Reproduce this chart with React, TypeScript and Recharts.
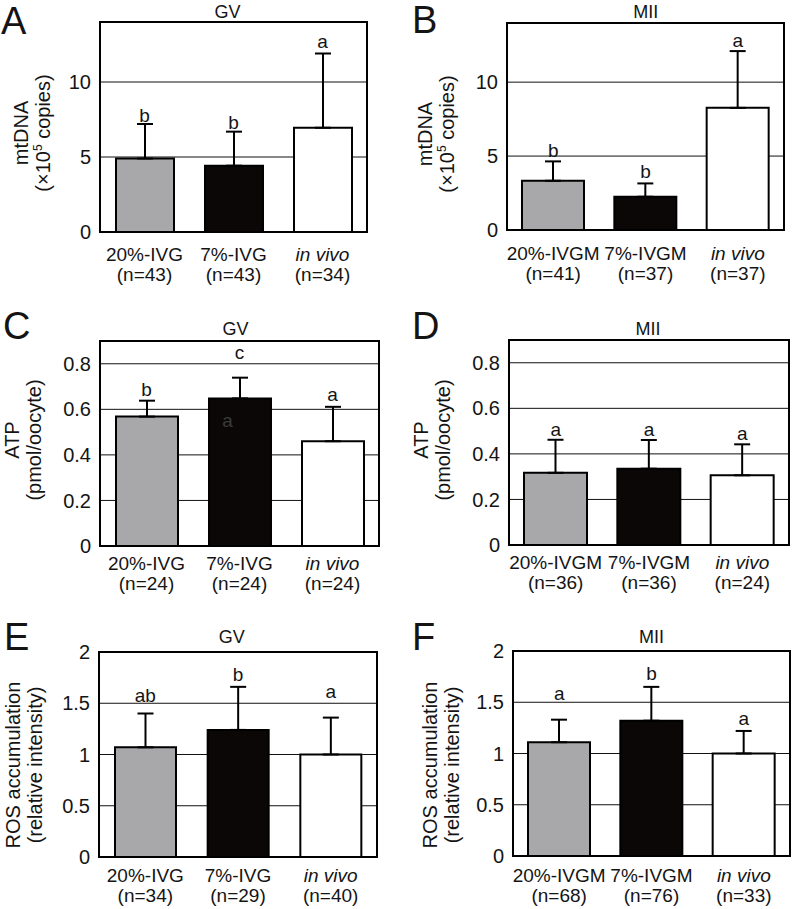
import React from 'react';
import {
  ComposedChart,
  Bar,
  Cell,
  ErrorBar,
  XAxis,
  YAxis,
  CartesianGrid,
  ReferenceArea,
  Line,
  LabelList,
} from 'recharts';

// ---------------- DATA ----------------
const gvGroups = ['20%-IVG', '7%-IVG', 'in vivo'];
const miiGroups = ['20%-IVGM', '7%-IVGM', 'in vivo'];

// A: mtDNA, GV (x10^5 copies)
const mtdnaGvMean = [4.9, 4.42, 6.95];
const mtdnaGvSd = [2.3, 2.27, 4.95];
const mtdnaGvN = [43, 43, 34];
const mtdnaGvLetters = ['b', 'b', 'a'];
const mtdnaGvLetterAt = [7.35, 6.85, 12.3];

// B: mtDNA, MII
const mtdnaMiiMean = [3.33, 2.25, 8.26];
const mtdnaMiiSd = [1.31, 0.9, 3.84];
const mtdnaMiiN = [41, 37, 37];
const mtdnaMiiLetters = ['b', 'b', 'a'];
const mtdnaMiiLetterAt = [4.95, 3.5, 12.4];

// C: ATP, GV (pmol/oocyte)
const atpGvMean = [0.568, 0.648, 0.46];
const atpGvSd = [0.07, 0.091, 0.151];
const atpGvN = [24, 24, 24];
const atpGvLetters = ['b', 'c', 'a'];
const atpGvLetterAt = [0.659, 0.821, 0.638];
const atpGvInnerLetters = ['', 'a', ''];
const atpGvInnerAt = [null, 0.524, null];

// D: ATP, MII
const atpMiiMean = [0.317, 0.335, 0.306];
const atpMiiSd = [0.145, 0.126, 0.136];
const atpMiiN = [36, 36, 24];
const atpMiiLetters = ['a', 'a', 'a'];
const atpMiiLetterAt = [0.48, 0.48, 0.46];

// E: ROS, GV (relative intensity)
const rosGvMean = [1.07, 1.24, 1.0];
const rosGvSd = [0.33, 0.42, 0.36];
const rosGvN = [34, 29, 40];
const rosGvLetters = ['ab', 'b', 'a'];
const rosGvLetterAt = [1.508, 1.72, 1.547];

// F: ROS, MII
const rosMiiMean = [1.11, 1.32, 1.0];
const rosMiiSd = [0.22, 0.33, 0.22];
const rosMiiN = [68, 76, 33];
const rosMiiLetters = ['a', 'b', 'a'];
const rosMiiLetterAt = [1.52, 1.717, 1.278];

const mtdnaTicks = [0, 5, 10];
const atpTicks = [0, 0.2, 0.4, 0.6, 0.8];
const rosTicks = [0, 0.5, 1, 1.5, 2];

// ---------------- STYLE ----------------
const FONT = '"Liberation Sans", Arial, Helvetica, sans-serif';
const TXT = '#141414';
const FS = 20;
const XFS = 19;
const barFills = ['#a8a7aa', '#0b0707', '#ffffff'];

function buildRows(
  groups: string[],
  mean: number[],
  sd: number[],
  n: number[],
  letters: string[],
  letterAt: number[],
  inner?: string[],
  innerAt?: (number | null)[]
) {
  return groups.map((name, i) => ({
    name,
    mean: mean[i],
    err: [0, sd[i]],
    n: n[i],
    letter: letters[i],
    letterAt: letterAt[i],
    inner: inner ? inner[i] : '',
    innerAt: innerAt ? innerAt[i] : null,
  }));
}

const panels = [
  {
    key: 'A',
    rows: buildRows(gvGroups, mtdnaGvMean, mtdnaGvSd, mtdnaGvN, mtdnaGvLetters, mtdnaGvLetterAt),
    max: 14,
    ticks: mtdnaTicks,
    col: 0,
    frame: { l: 100, t: 22, r: 367, b: 232 },
    barSize: 58,
    title: 'GV',
    titlePos: [227.5, 18],
    letterPos: [1, 34],
    yLabel: ['mtDNA', 'copies'],
    yLabelX: [28, 50],
    yLabelY: 133,
    xOff: 29,
  },
  {
    key: 'B',
    rows: buildRows(miiGroups, mtdnaMiiMean, mtdnaMiiSd, mtdnaMiiN, mtdnaMiiLetters, mtdnaMiiLetterAt),
    max: 14,
    ticks: mtdnaTicks,
    col: 1,
    frame: { l: 507, t: 23, r: 784, b: 230 },
    barSize: 62,
    title: 'MII',
    titlePos: [645.8, 18],
    letterPos: [412, 33],
    yLabel: ['mtDNA', 'copies'],
    yLabelX: [432, 454],
    yLabelY: 134,
    xOff: 30,
  },
  {
    key: 'C',
    rows: buildRows(gvGroups, atpGvMean, atpGvSd, atpGvN, atpGvLetters, atpGvLetterAt, atpGvInnerLetters, atpGvInnerAt),
    max: 0.9,
    ticks: atpTicks,
    col: 0,
    frame: { l: 100, t: 341, r: 379, b: 546 },
    barSize: 62,
    title: 'GV',
    titlePos: [235.5, 335],
    letterPos: [3, 339],
    yLabel: ['ATP', '(pmol/oocyte)'],
    yLabelX: [19, 41],
    yLabelY: 440,
    xOff: 24,
  },
  {
    key: 'D',
    rows: buildRows(miiGroups, atpMiiMean, atpMiiSd, atpMiiN, atpMiiLetters, atpMiiLetterAt),
    max: 0.9,
    ticks: atpTicks,
    col: 1,
    frame: { l: 509, t: 340, r: 789, b: 545 },
    barSize: 63,
    title: 'MII',
    titlePos: [648, 335],
    letterPos: [412, 339],
    yLabel: ['ATP', '(pmol/oocyte)'],
    yLabelX: [428, 450],
    yLabelY: 440,
    xOff: 24,
  },
  {
    key: 'E',
    rows: buildRows(gvGroups, rosGvMean, rosGvSd, rosGvN, rosGvLetters, rosGvLetterAt),
    max: 2,
    ticks: rosTicks,
    col: 0,
    frame: { l: 99, t: 652, r: 377, b: 857 },
    barSize: 61,
    title: 'GV',
    titlePos: [231.7, 643],
    letterPos: [4, 650],
    yLabel: ['ROS accumulation', '(relative intensity)'],
    yLabelX: [20, 42],
    yLabelY: 765,
    xOff: 25,
  },
  {
    key: 'F',
    rows: buildRows(miiGroups, rosMiiMean, rosMiiSd, rosMiiN, rosMiiLetters, rosMiiLetterAt),
    max: 2,
    ticks: rosTicks,
    col: 1,
    frame: { l: 513, t: 651, r: 790, b: 856 },
    barSize: 62,
    title: 'MII',
    titlePos: [651.5, 643],
    letterPos: [412, 650],
    yLabel: ['ROS accumulation', '(relative intensity)'],
    yLabelX: [437, 459],
    yLabelY: 765,
    xOff: 26,
  },
];

function XTick(props: any) {
  const { x, y, payload, rows, off } = props;
  const row = rows.find((r: any) => r.name === payload.value);
  const italic = payload.value === 'in vivo';
  return (
    <g>
      <text
        x={x}
        y={y + off}
        textAnchor="middle"
        fontSize={XFS}
        fontFamily={FONT}
        fill={TXT}
        fontStyle={italic ? 'italic' : 'normal'}
      >
        {payload.value}
      </text>
      <text x={x} y={y + off + 20} textAnchor="middle" fontSize={XFS} fontFamily={FONT} fill={TXT}>
        {`(n=${row ? row.n : ''})`}
      </text>
    </g>
  );
}

function makeLetter(color: string, dx: number) {
  return (props: any) => {
    const { x, y, value } = props;
    if (!value || y == null || isNaN(y)) return null;
    return (
      <text x={x + dx} y={y} textAnchor="middle" fontSize={19} fontFamily={FONT} fill={color}>
        {value}
      </text>
    );
  };
}

function Panel({ p }: { p: any }) {
  const cx = p.col === 0 ? 0 : 395;
  const cw = p.col === 0 ? 395 : 398;
  const cy = p.frame.t - 40;
  const ch = p.frame.b + 64 - cy;
  const margin = { top: 40, right: cx + cw - p.frame.r, bottom: 0, left: 0 };
  const hasInner = p.rows.some((r: any) => r.inner);
  return (
    <div style={{ position: 'absolute', left: cx, top: cy }}>
      <ComposedChart width={cw} height={ch} data={p.rows} margin={margin}>
        <CartesianGrid vertical={false} stroke="#111" strokeWidth={1} />
        <XAxis
          dataKey="name"
          axisLine={false}
          tickLine={false}
          tickSize={0}
          tickMargin={0}
          interval={0}
          height={64}
          tick={(tp: any) => <XTick {...tp} rows={p.rows} off={p.xOff} />}
        />
        <YAxis
          width={p.frame.l - cx}
          domain={[0, p.max]}
          ticks={p.ticks}
          interval={0}
          allowDataOverflow
          axisLine={false}
          tickLine={false}
          tickSize={0}
          tickMargin={9}
          tick={{ fontSize: FS, fill: TXT, fontFamily: FONT }}
        />
        <Bar dataKey="mean" barSize={p.barSize} stroke="#000" strokeWidth={2} isAnimationActive={false}>
          {p.rows.map((_r: any, i: number) => (
            <Cell key={i} fill={barFills[i]} />
          ))}
          <ErrorBar dataKey="err" width={8} strokeWidth={2} stroke="#000" direction="y" />
        </Bar>
        <Line
          dataKey="letterAt"
          stroke="none"
          dot={false}
          activeDot={false}
          isAnimationActive={false}
          legendType="none"
        >
          <LabelList dataKey="letter" content={makeLetter(TXT, 0)} />
        </Line>
        {hasInner && (
          <Line
            dataKey="innerAt"
            stroke="none"
            dot={false}
            activeDot={false}
            isAnimationActive={false}
            legendType="none"
          >
            <LabelList dataKey="inner" content={makeLetter('#3a3a3a', -12)} />
          </Line>
        )}
        <ReferenceArea y1={0} y2={p.max} fill="none" fillOpacity={0} stroke="#000" strokeWidth={2} ifOverflow="visible" />
      </ComposedChart>
    </div>
  );
}

function Overlay() {
  return (
    <svg
      width={793}
      height={909}
      style={{ position: 'absolute', left: 0, top: 0, pointerEvents: 'none' }}
    >
      {panels.map((p) => (
        <g key={p.key} fontFamily={FONT} fill={TXT}>
          <text x={p.letterPos[0]} y={p.letterPos[1]} fontSize={38}>
            {p.key}
          </text>
          <text x={p.titlePos[0]} y={p.titlePos[1]} fontSize={18} textAnchor="middle">
            {p.title}
          </text>
          <text
            x={p.yLabelX[0]}
            y={p.yLabelY}
            fontSize={FS}
            textAnchor="middle"
            transform={`rotate(-90, ${p.yLabelX[0]}, ${p.yLabelY})`}
          >
            {p.yLabel[0]}
          </text>
          {p.yLabel[1] === 'copies' ? (
            <text
              x={p.yLabelX[1]}
              y={p.yLabelY}
              fontSize={FS}
              textAnchor="middle"
              transform={`rotate(-90, ${p.yLabelX[1]}, ${p.yLabelY})`}
            >
              {'(\u00d710'}
              <tspan fontSize={12} dy={-8}>
                5
              </tspan>
              <tspan dy={8}>{' copies)'}</tspan>
            </text>
          ) : (
            <text
              x={p.yLabelX[1]}
              y={p.yLabelY}
              fontSize={FS}
              textAnchor="middle"
              transform={`rotate(-90, ${p.yLabelX[1]}, ${p.yLabelY})`}
            >
              {p.yLabel[1]}
            </text>
          )}
        </g>
      ))}
    </svg>
  );
}

export default function App() {
  return (
    <div
      style={{
        position: 'absolute',
        left: 0,
        top: 0,
        width: 793,
        height: 909,
        background: '#ffffff',
        overflow: 'hidden',
      }}
    >
      {panels.map((p) => (
        <Panel key={p.key} p={p} />
      ))}
      <Overlay />
    </div>
  );
}
